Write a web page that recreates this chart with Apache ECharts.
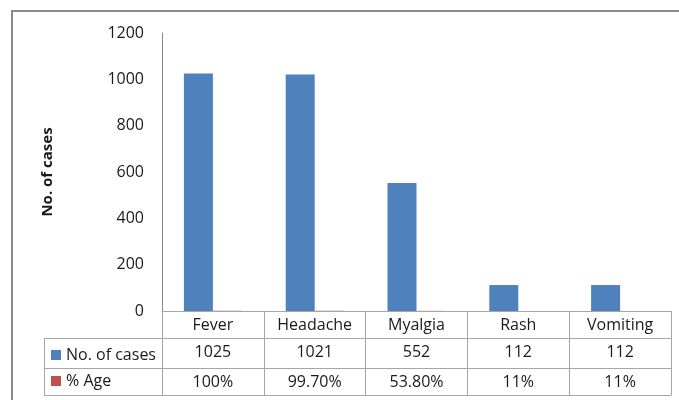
<!DOCTYPE html>
<html>
<head>
<meta charset="utf-8">
<script src="https://cdn.jsdelivr.net/npm/echarts@6/dist/echarts.min.js"></script>
<style>
  html, body { margin: 0; padding: 0; background: #fff; }
  #chart { width: 679px; height: 400px; }
</style>
</head>
<body>
<div id="chart"></div>
<script>
// Symptoms and their counts / share of cases
const categories = ['Fever', 'Headache', 'Myalgia', 'Rash', 'Vomiting'];
const cases = [1025, 1021, 552, 112, 112];
const percentAge = [1.00, 0.997, 0.538, 0.11, 0.11];
const percentLabels = ['100%', '99.70%', '53.80%', '11%', '11%'];
const yTicks = { min: 0, max: 1200, interval: 200 };

const FONT = 'Open Sans';
const TEXT = '#1a1a1a';
const LINE = '#a6a6a6';
const FS = 16;

// Plot area in pixels; the data table sits underneath it
const G = { left: 162, right: 8, top: 33, bottom: 89 };
const W = 679, H = 400;
const axisY = H - G.bottom;       // y of the category axis
const ROW1 = 27, ROW2 = 57, ROW3 = 84; // row boundaries below the axis
const tableLeft = 44;

const chart = echarts.init(document.getElementById('chart'), null, { renderer: 'canvas' });

function tableAxis(offset, formatter) {
  return {
    type: 'category',
    data: categories,
    position: 'bottom',
    offset: offset,
    axisLine: { show: true, lineStyle: { color: LINE, width: 1 } },
    axisTick: { show: false },
    axisLabel: formatter ? {
      show: true, interval: 0, margin: 6, color: TEXT,
      fontFamily: FONT, fontSize: FS, formatter: formatter
    } : { show: false },
    splitLine: { show: false }
  };
}

chart.setOption({
  animation: false,
  backgroundColor: '#fff',
  textStyle: { fontFamily: FONT },
  grid: G,
  legend: {
    orient: 'vertical',
    left: 46,
    top: axisY + ROW1 + 4,
    itemWidth: 10,
    itemHeight: 10,
    itemGap: 10,
    icon: 'rect',
    textStyle: { color: TEXT, fontFamily: FONT, fontSize: FS, padding: [0, 0, 0, 0] },
    data: ['No. of cases', '% Age']
  },
  xAxis: [
    {
      type: 'category',
      data: categories,
      position: 'bottom',
      axisLine: { show: true, lineStyle: { color: LINE, width: 1 } },
      axisTick: { show: true, interval: 0, length: ROW3, lineStyle: { color: LINE, width: 1 } },
      axisLabel: { interval: 0, margin: 6, color: TEXT, fontFamily: FONT, fontSize: FS },
      splitLine: { show: false }
    },
    tableAxis(ROW1, (v, i) => String(cases[i])),
    tableAxis(ROW2, (v, i) => percentLabels[i]),
    tableAxis(ROW3, null)
  ],
  yAxis: {
    type: 'value',
    min: yTicks.min,
    max: yTicks.max,
    interval: yTicks.interval,
    name: 'No. of cases',
    nameLocation: 'middle',
    nameGap: 107,
    nameTextStyle: { color: TEXT, fontFamily: FONT, fontSize: 15, fontWeight: 'bold' },
    axisLine: { show: true, lineStyle: { color: '#8c8c8c', width: 1 } },
    axisTick: { show: false },
    axisLabel: { color: TEXT, fontFamily: FONT, fontSize: FS, margin: 18, formatter: v => String(v) },
    splitLine: { show: false }
  },
  series: [
    {
      name: 'No. of cases',
      type: 'bar',
      data: cases,
      barWidth: 29,
      barGap: '0%',
      itemStyle: { color: '#4f81bd' }
    },
    {
      name: '% Age',
      type: 'bar',
      data: percentAge,
      barWidth: 29,
      barGap: '0%',
      itemStyle: { color: '#c0504d' }
    }
  ],
  graphic: [
    // outer chart frame
    { type: 'rect', shape: { x: 12, y: 11, width: 700, height: 420 },
      style: { fill: 'none', stroke: '#8a8a8a', lineWidth: 2 }, silent: true },
    // left column of the data table
    { type: 'line', shape: { x1: tableLeft, y1: axisY + ROW1 + 0.5, x2: G.left, y2: axisY + ROW1 + 0.5 },
      style: { stroke: LINE, lineWidth: 1 } },
    { type: 'line', shape: { x1: tableLeft, y1: axisY + ROW2 + 0.5, x2: G.left, y2: axisY + ROW2 + 0.5 },
      style: { stroke: LINE, lineWidth: 1 } },
    { type: 'line', shape: { x1: tableLeft, y1: axisY + ROW3 + 0.5, x2: G.left, y2: axisY + ROW3 + 0.5 },
      style: { stroke: LINE, lineWidth: 1 } },
    { type: 'line', shape: { x1: tableLeft + 0.5, y1: axisY + ROW1, x2: tableLeft + 0.5, y2: axisY + ROW3 },
      style: { stroke: LINE, lineWidth: 1 } }
  ]
});
</script>
</body>
</html>
